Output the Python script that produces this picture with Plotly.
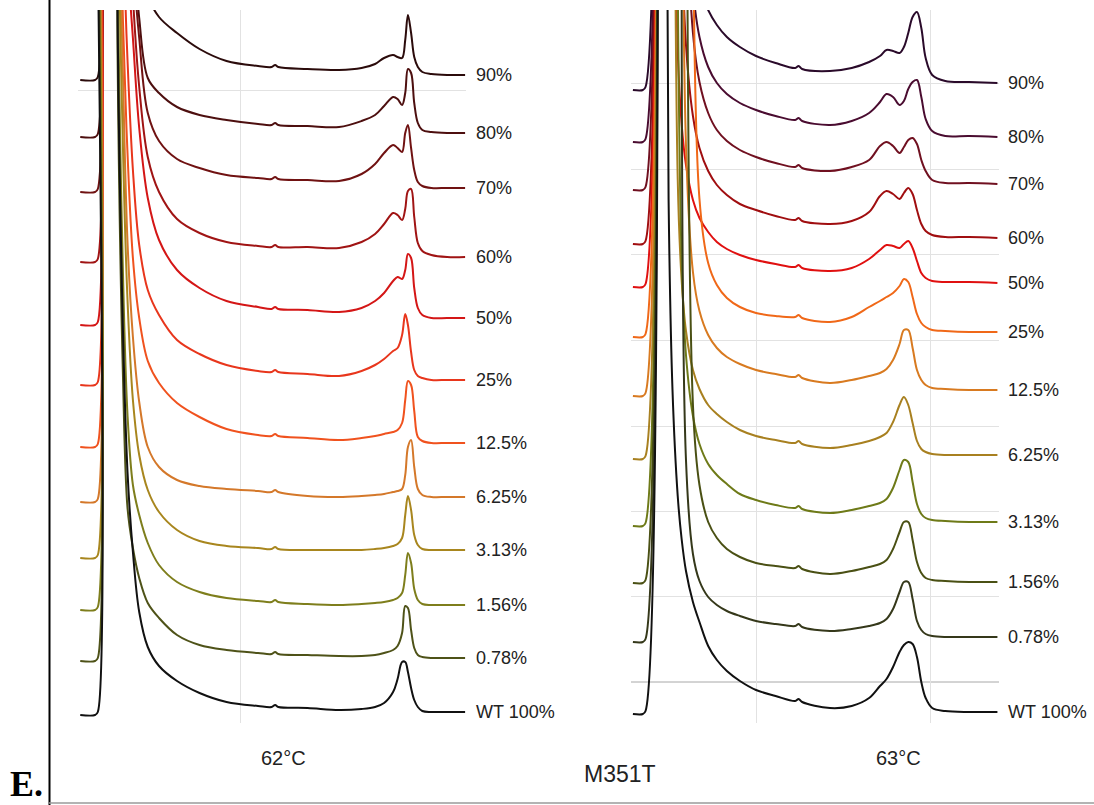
import plotly.graph_objects as go

W, H = 1094, 805
N = None

CONC = ["90%", "80%", "70%", "60%", "50%", "25%", "12.5%", "6.25%", "3.13%", "1.56%", "0.78%", "WT 100%"]

# ---------------- 62 °C run (left) ----------------
T62 = [0.45, 0.78, 0.84, 0.9, 1.1, 1.28, 1.4, 1.5, 1.62, 1.76, 1.95, 2.2, 2.6, 3.1, 3.7, 4.4,
       4.7, 4.78, 4.85, 5.5, 6.2, 6.7, 7.0, 7.2, 7.4, 7.5, 7.6, 7.67, 7.73, 7.8, 7.87, 7.95,
       8.05, 8.25, 8.6, 9.0]
BASE62 = [648, 590, 535, 466, 405, 343, 280, 226, 173, 118, 65, 11]
SIG62 = [
    [-5, -5, -2, 3000, 3000, 800, 500, 350, 250, 160, 80, 58, 42, 26, 14, 9, 8, 10, 8,
     6, 5, 7, 11, 17, 20, 18, 17, 35, 60, 42, 18, 8, 3, 1, 0, 0],
    [-4, -4, -1, 3000, 3000, 800, 500, 350, 200, 115, 55, 40, 26, 18, 13, 9, 8, 10, 8,
     7, 6, 12, 18, 27, 36, 34, 28, 40, 64, 60, 30, 10, 3, 1, 0, 0],
    [-4, -4, -1, 3000, 3000, 800, 500, 380, 230, 150, 75, 47, 29, 20, 13, 10, 9, 11, 9,
     8, 7, 14, 24, 35, 43, 40, 36, 55, 63, 40, 18, 6, 2, 0, 0, 0],
    [-5, -5, -2, 3000, 3000, 800, 500, 380, 260, 170, 100, 65, 38, 24, 15, 11, 10, 12, 10,
     10, 9, 15, 23, 33, 44, 42, 37, 48, 66, 68, 40, 14, 6, 2, 0, 0],
    [-7, -7, -4, 3000, 3000, 800, 500, 360, 280, 190, 120, 78, 48, 30, 17, 11, 9, 11, 9,
     8, 6, 10, 17, 25, 37, 41, 39, 48, 64, 60, 30, 10, 3, 0, 0, 0],
    [-5, -5, -2, 3000, 3000, 700, 450, 320, 210, 135, 90, 65, 40, 26, 15, 9, 8, 10, 8,
     6, 4, 9, 15, 21, 29, 32, 45, 66, 55, 28, 10, 4, 2, 0, 0, 0],
    [-4, -4, -1, 3000, 3000, 700, 420, 290, 185, 125, 82, 60, 40, 26, 14, 8, 7, 9, 7,
     5, 3, 5, 7, 9, 11, 13, 20, 43, 62, 58, 32, 6, 2, 0, 0, 0],
    [-5, -5, -2, 3000, 3000, 700, 420, 255, 160, 95, 50, 30, 17, 11, 8, 6, 5, 7, 5,
     1, 0, 1, 2, 3, 5, 6, 8, 22, 50, 57, 30, 8, 2, 0, 0, 0],
    [-8, -8, -5, 3000, 3000, 700, 400, 250, 150, 95, 60, 38, 20, 9, 4, 2, 1, 3, 1,
     0, 0, 0, 1, 2, 4, 6, 12, 35, 54, 40, 15, 5, 1, 0, 0, 0],
    [-5, -5, -2, 3000, 3000, 650, 330, 190, 120, 90, 62, 40, 23, 13, 7, 4, 3, 5, 3,
     1, 0, 1, 2, 3, 5, 7, 12, 30, 52, 42, 16, 5, 1, 0, 0, 0],
    [-3, -3, 0, 3000, 3000, 600, 280, 150, 110, 80, 55, 40, 23, 13, 8, 5, 4, 6, 4,
     3, 2, 2, 3, 5, 8, 12, 25, 52, 50, 28, 10, 3, 1, 0, 0, 0],
    [-3, -3, 0, 3000, 3000, 690, 380, 240, 160, 100, 65, 46, 31, 19, 10, 6, 5, 7, 5,
     4, 2, 3, 5, 9, 20, 33, 50, 50, 40, 24, 12, 5, 1, 0, 0, 0],
]
COL62 = ["#2b0b0b", "#4d0f0f", "#701212", "#a01414", "#d41616", "#e8361c",
         "#f0521e", "#d4782a", "#a8861e", "#7e7e1c", "#4e5218", "#111111"]

# ---------------- 63 °C run (right) ----------------
T63 = [1.17, 1.40, 1.46, 1.53, 1.70, 1.90, 1.99, 2.08, 2.20, 2.29, 2.39, 2.55, 2.70, 2.90,
       3.10, 3.33, 3.63, 4.00, 4.45, 4.90, 4.98, 5.06, 5.70, 6.20, 6.60, 6.85, 7.00, 7.15,
       7.30, 7.40, 7.50, 7.60, 7.70, 7.80, 7.90, 8.05, 8.35, 8.90, 9.55]
BASE63 = [640, 586, 539, 485, 440, 391, 333, 268, 201, 141, 86, 11]
SIG63 = [
    [-7, -7, -4, 3000, N, N, N, N, 475, 278, 189, 126, 96, 73, 58, 46, 36, 27, 20, 15, 17, 14,
     12, 15, 21, 27, 33, 32, 30, 36, 50, 66, 71, 55, 25, 8, 2, 1, 0],
    [-5, -5, -2, 3000, N, N, N, N, N, 789, 293, 148, 100, 70, 54, 43, 34, 27, 21, 17, 19, 16,
     12, 16, 24, 35, 43, 40, 32, 36, 48, 55, 57, 40, 18, 6, 1, 1, 0],
    [-6, -6, -3, 3000, N, N, N, N, N, 928, 309, 151, 102, 71, 54, 43, 34, 27, 21, 17, 19, 16,
     13, 17, 24, 38, 42, 38, 31, 37, 44, 46, 40, 24, 13, 4, 1, 1, 0],
    [-6, -6, -3, 3000, N, N, N, N, 665, 310, 193, 122, 90, 67, 53, 43, 34, 28, 22, 18, 20, 17,
     14, 17, 26, 42, 47, 44, 39, 45, 50, 44, 28, 14, 7, 3, 1, 1, 0],
    [-4, -4, -1, 3000, N, N, N, 598, 232, 159, 118, 83, 65, 51, 41, 34, 28, 23, 19, 16, 18, 15,
     12, 15, 24, 33, 38, 37, 35, 39, 42, 35, 22, 10, 5, 2, 1, 1, 0],
    [-5, -5, -2, 3000, N, N, N, N, N, N, N, 436, 133, 69, 47, 34, 25, 19, 16, 15, 17, 14,
     10, 15, 25, 31, 35, 39, 46, 53, 50, 35, 18, 9, 5, 2, 1, 0, 0],
    [-6, -6, -3, 3000, N, N, N, N, N, 783, 245, 118, 79, 55, 42, 33, 26, 20, 16, 13, 15, 12,
     7, 10, 14, 17, 21, 30, 46, 60, 60, 42, 20, 10, 5, 2, 1, 0, 0],
    [-4, -4, -1, 3000, N, N, N, 1172, 276, 175, 124, 85, 66, 50, 41, 33, 25, 19, 15, 12, 14, 11,
     7, 10, 14, 18, 22, 33, 50, 58, 50, 32, 14, 6, 3, 1, 0, 0, 0],
    [-4, -4, -1, 3000, N, N, N, N, 540, 263, 167, 106, 78, 58, 47, 38, 28, 22, 17, 14, 16, 13,
     9, 12, 16, 19, 23, 34, 52, 62, 60, 40, 18, 8, 4, 2, 1, 0, 0],
    [-1, -1, 2, 3000, N, N, N, N, N, N, 1400, 177, 97, 60, 44, 33, 25, 19, 16, 14, 16, 13,
     8, 11, 15, 18, 22, 33, 50, 60, 60, 42, 20, 9, 4, 2, 1, 0, 0],
    [-5, -5, -2, 3000, N, N, N, N, N, 757, 177, 83, 56, 40, 32, 26, 21, 16, 13, 11, 13, 10,
     6, 8, 11, 14, 18, 28, 45, 55, 55, 38, 16, 7, 3, 1, 0, 0, 0],
    [-2, -2, 1, 3000, N, 1253, 513, 322, 216, 173, 141, 110, 90, 66, 52, 41, 31, 22, 16, 11, 13, 10,
     4, 6, 14, 26, 33, 45, 60, 67, 70, 68, 55, 30, 14, 4, 1, 0, 0],
]
COL63 = ["#2a0a2a", "#4a0c30", "#701020", "#a00e10", "#e01010", "#f06818",
         "#d87a20", "#a88020", "#6e7a18", "#4a5014", "#35381a", "#111111"]

GRID_X62 = [4, 9]
GRID_Y62 = [633]
GRID_X63 = [4, 8]
GRID_Y63 = [127, 212, 297, 383, 469, 554, 640]
DARK_Y63 = 41

fig = go.Figure()


def stack(base, sig):
    return [None if v is None else base + v for v in sig]


for i in range(len(CONC)):
    fig.add_trace(go.Scatter(
        x=T62, y=stack(BASE62[i], SIG62[i]), mode="lines",
        line=dict(color=COL62[i], width=2, shape="spline", smoothing=1.0),
        xaxis="x", yaxis="y", showlegend=False, hoverinfo="skip"))
    fig.add_trace(go.Scatter(
        x=T63, y=stack(BASE63[i], SIG63[i]), mode="lines", connectgaps=False,
        line=dict(color=COL63[i], width=2, shape="spline", smoothing=1.0),
        xaxis="x2", yaxis="y2", showlegend=False, hoverinfo="skip"))

lab_font = dict(family="Liberation Sans, Arial, sans-serif", size=18, color="#222222")
ann = []
for i, c in enumerate(CONC):
    ann.append(dict(x=T62[-1], y=BASE62[i], xref="x", yref="y", text=c, showarrow=False,
                    xanchor="left", yanchor="middle", xshift=9, font=lab_font))
    ann.append(dict(x=T63[-1], y=BASE63[i], xref="x2", yref="y2", text=c, showarrow=False,
                    xanchor="left", yanchor="middle", xshift=9, font=lab_font))

big = dict(family="Liberation Sans, Arial, sans-serif", size=20, color="#222222")
ann.append(dict(x=284 / W, y=1 - 758 / H, xref="paper", yref="paper", text="62°C",
                showarrow=False, xanchor="center", yanchor="middle", font=big))
ann.append(dict(x=898 / W, y=1 - 758 / H, xref="paper", yref="paper", text="63°C",
                showarrow=False, xanchor="center", yanchor="middle", font=big))
ann.append(dict(x=620 / W, y=1 - 774 / H, xref="paper", yref="paper", text="M351T",
                showarrow=False, xanchor="center", yanchor="middle",
                font=dict(family="Liberation Sans, Arial, sans-serif", size=23, color="#222222")))
ann.append(dict(x=26 / W, y=1 - 784 / H, xref="paper", yref="paper", text="<b>E.</b>",
                showarrow=False, xanchor="center", yanchor="middle",
                font=dict(family="Liberation Serif, Times New Roman, serif", size=36, color="#000000")))

ydom = [1 - 723 / H, 1 - 10 / H]
axis_common = dict(showticklabels=False, ticks="", zeroline=False, showline=False,
                   showgrid=True, gridcolor="#e2e2e2", gridwidth=1)

fig.update_layout(
    width=W, height=H, margin=dict(l=0, r=0, t=0, b=0),
    paper_bgcolor="white", plot_bgcolor="white", hovermode=False,
    xaxis=dict(domain=[78 / W, 466 / W], range=[0.4, 9.02], tickvals=GRID_X62, **axis_common),
    yaxis=dict(domain=ydom, range=[0, 713], tickvals=GRID_Y62, **axis_common),
    xaxis2=dict(domain=[631 / W, 999 / W], range=[1.126, 9.586], tickvals=GRID_X63,
                anchor="y2", **axis_common),
    yaxis2=dict(domain=ydom, range=[0, 713], tickvals=GRID_Y63, anchor="x2", **axis_common),
    annotations=ann,
    shapes=[
        dict(type="line", xref="x2 domain", yref="y2", x0=0, x1=1, y0=DARK_Y63, y1=DARK_Y63,
             line=dict(color="#a8a8a8", width=1), layer="below"),
        dict(type="line", xref="paper", yref="paper", x0=49.5 / W, x1=49.5 / W, y0=0, y1=1,
             line=dict(color="#000000", width=2)),
        dict(type="line", xref="paper", yref="paper", x0=49 / W, x1=1, y0=1 - 803 / H, y1=1 - 803 / H,
             line=dict(color="#9a9a9a", width=1.5)),
    ],
)

fig.write_html("out.html", config={"displayModeBar": False})
